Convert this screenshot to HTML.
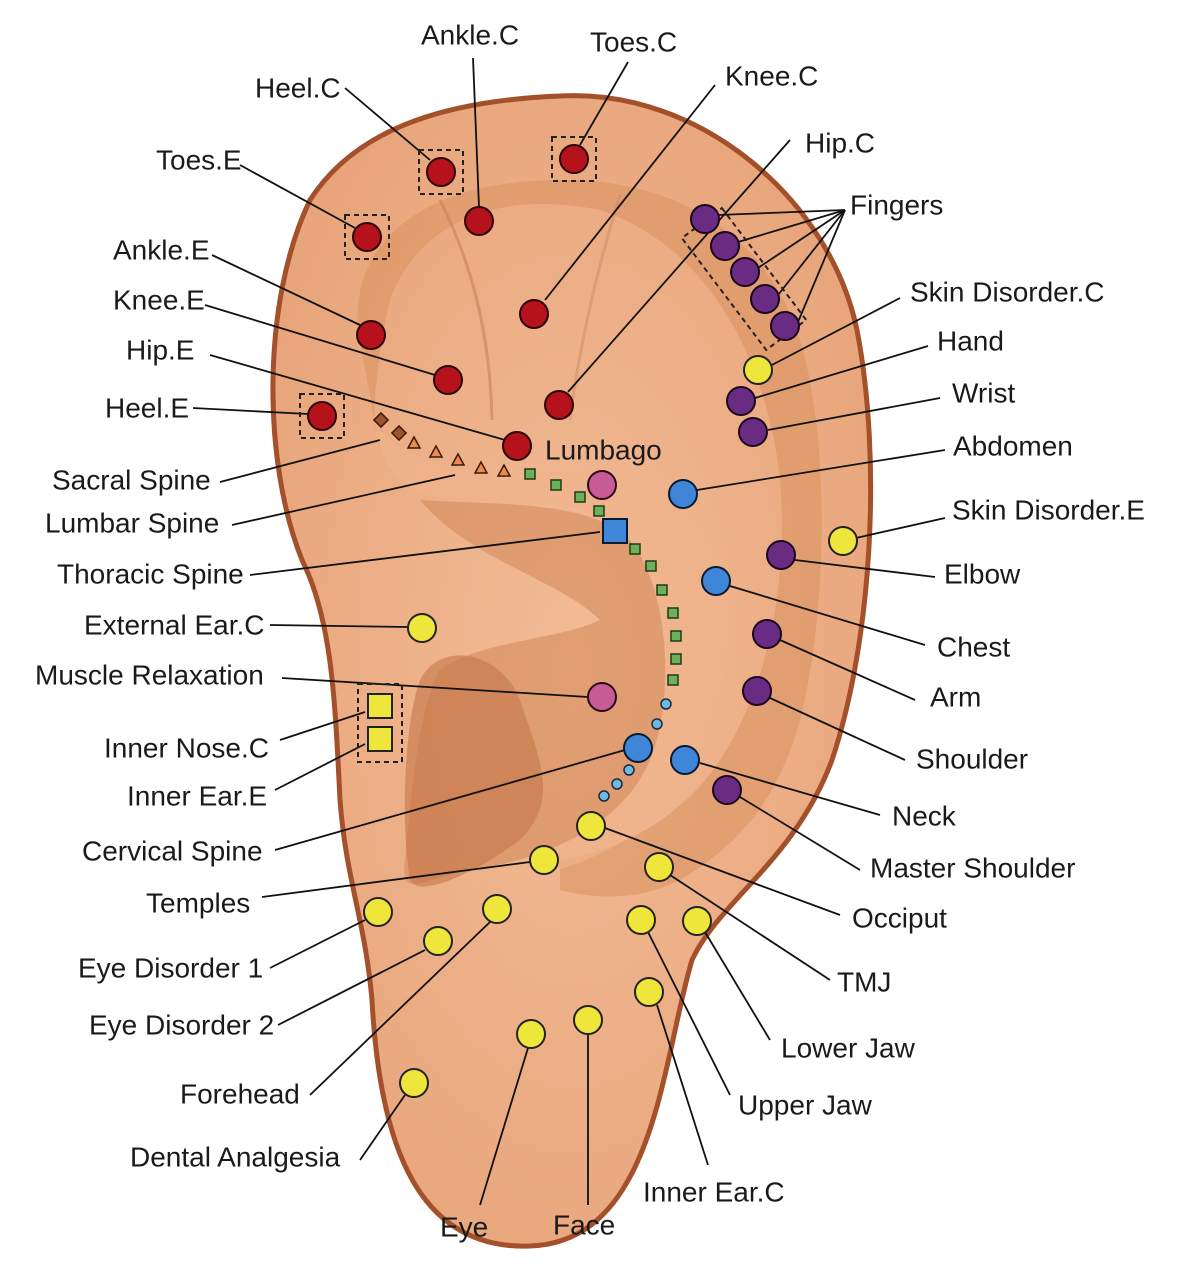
<!DOCTYPE html>
<html><head><meta charset="utf-8"><style>
html,body{margin:0;padding:0;background:#fff}
svg{display:block}
text{font-family:"Liberation Sans",sans-serif;font-size:28px;fill:#1a1a1a;dominant-baseline:central}
</style></head><body>
<svg width="1200" height="1267" viewBox="0 0 1200 1267" xmlns="http://www.w3.org/2000/svg">
<defs>
<radialGradient id="sk" cx="0.5" cy="0.5" r="0.6"><stop offset="0" stop-color="#f2bc96"/><stop offset="1" stop-color="#e8a47a"/></radialGradient>
</defs>
<path d="M560 96 C700 88 830 200 857 330 C882 460 872 640 832 760 C795 860 720 900 692 960 C662 1060 655 1242 530 1246 C420 1250 380 1150 372 1000 C365 920 346 880 340 800 C335 700 332 620 302 560 C262 460 262 300 310 200 C360 122 460 100 560 96 Z" fill="url(#sk)" stroke="#a4502a" stroke-width="5"/>
<path d="M358 330 C350 230 440 180 560 180 C680 178 770 240 800 340 C830 440 828 610 800 720 C775 810 730 850 680 880 C640 900 600 900 560 890 L560 860 C620 850 680 820 720 760 C760 700 790 600 780 480 C770 380 720 250 600 210 C500 190 420 220 390 300 C380 340 370 420 376 430 Z" fill="#d9915f" opacity="0.55"/>
<path d="M378 430 C420 470 500 480 560 470 C620 460 690 470 720 560 C745 640 720 760 640 830 C600 860 540 880 470 890 L450 860 C520 850 600 820 640 760 C680 690 680 600 640 540 C600 500 520 500 460 500 C410 500 380 470 378 430 Z" fill="#efb48c" opacity="0.7"/>
<path d="M420 500 C500 505 590 500 630 540 C670 590 675 700 650 760 C620 830 540 860 470 870 C420 880 400 900 405 860 C410 800 420 700 440 670 C480 640 560 640 600 620 C560 580 470 560 420 500 Z" fill="#d38a5c" opacity="0.6"/>
<path d="M420 680 C440 640 500 650 520 700 C540 760 560 800 520 840 C480 870 420 900 410 880 C400 820 405 720 420 680 Z" fill="#c5764a" opacity="0.6"/>
<path d="M440 200 C470 260 490 330 492 420" stroke="#c98257" stroke-width="3" fill="none" opacity="0.6"/>
<path d="M620 195 C600 260 580 340 570 420" stroke="#c98257" stroke-width="3" fill="none" opacity="0.4"/>

<g stroke="#111" stroke-width="1.8" fill="none">
<line x1="473" y1="58" x2="479" y2="207"/>
<line x1="345" y1="88" x2="430" y2="160"/>
<line x1="628" y1="62" x2="580" y2="145"/>
<line x1="715" y1="85" x2="545" y2="300"/>
<line x1="790" y1="140" x2="568" y2="392"/>
<line x1="240" y1="165" x2="355" y2="228"/>
<line x1="212" y1="255" x2="360" y2="325"/>
<line x1="205" y1="305" x2="435" y2="375"/>
<line x1="210" y1="355" x2="505" y2="440"/>
<line x1="193" y1="408" x2="308" y2="414"/>
<line x1="845" y1="210" x2="718" y2="215"/>
<line x1="845" y1="210" x2="738" y2="242"/>
<line x1="845" y1="210" x2="758" y2="268"/>
<line x1="845" y1="210" x2="778" y2="295"/>
<line x1="845" y1="210" x2="798" y2="322"/>
<line x1="900" y1="298" x2="770" y2="366"/>
<line x1="928" y1="346" x2="755" y2="398"/>
<line x1="940" y1="398" x2="768" y2="430"/>
<line x1="945" y1="450" x2="697" y2="490"/>
<line x1="945" y1="518" x2="856" y2="538"/>
<line x1="935" y1="577" x2="795" y2="560"/>
<line x1="925" y1="645" x2="730" y2="586"/>
<line x1="915" y1="700" x2="780" y2="640"/>
<line x1="905" y1="760" x2="770" y2="698"/>
<line x1="880" y1="815" x2="700" y2="763"/>
<line x1="860" y1="870" x2="740" y2="797"/>
<line x1="840" y1="915" x2="605" y2="828"/>
<line x1="830" y1="980" x2="670" y2="875"/>
<line x1="770" y1="1040" x2="705" y2="932"/>
<line x1="730" y1="1095" x2="648" y2="932"/>
<line x1="708" y1="1165" x2="657" y2="1005"/>
<line x1="588" y1="1205" x2="588" y2="1034"/>
<line x1="480" y1="1205" x2="528" y2="1048"/>
<line x1="360" y1="1160" x2="405" y2="1095"/>
<line x1="310" y1="1095" x2="490" y2="922"/>
<line x1="278" y1="1025" x2="425" y2="950"/>
<line x1="270" y1="968" x2="365" y2="920"/>
<line x1="262" y1="897" x2="530" y2="862"/>
<line x1="275" y1="850" x2="625" y2="750"/>
<line x1="275" y1="790" x2="365" y2="744"/>
<line x1="280" y1="740" x2="365" y2="712"/>
<line x1="282" y1="678" x2="588" y2="697"/>
<line x1="270" y1="625" x2="408" y2="627"/>
<line x1="250" y1="575" x2="600" y2="532"/>
<line x1="232" y1="525" x2="455" y2="475"/>
<line x1="220" y1="482" x2="380" y2="440"/>
</g>

<g fill="none" stroke="#222" stroke-width="2" stroke-dasharray="5,4">
<rect x="419" y="150" width="44" height="44"/>
<rect x="552" y="137" width="44" height="44"/>
<rect x="345" y="215" width="44" height="44"/>
<rect x="300" y="394" width="44" height="44"/>
<rect x="358" y="684" width="44" height="78"/>
<rect x="680" y="252" width="140" height="50" transform="rotate(53 745 272)"/>
</g>

<g fill="#a0522d" stroke="#3a1a0a" stroke-width="1.5">
<rect x="-5" y="-5" width="10" height="10" transform="translate(381 420) rotate(45)"/>
<rect x="-5" y="-5" width="10" height="10" transform="translate(399 433) rotate(45)"/>
</g>
<g fill="#f08a50" stroke="#3a1a0a" stroke-width="1.5">
<polygon points="414,437 420,448 408,448"/>
<polygon points="436,446 442,457 430,457"/>
<polygon points="458,454 464,465 452,465"/>
<polygon points="481,462 487,473 475,473"/>
<polygon points="504,465 510,476 498,476"/>
</g>
<g fill="#6cb05a" stroke="#1f3a14" stroke-width="1.5">
<rect x="525" y="469" width="10" height="10"/><rect x="551" y="480" width="10" height="10"/>
<rect x="575" y="492" width="10" height="10"/><rect x="594" y="506" width="10" height="10"/>
<rect x="630" y="544" width="10" height="10"/><rect x="646" y="561" width="10" height="10"/>
<rect x="657" y="585" width="10" height="10"/><rect x="668" y="608" width="10" height="10"/>
<rect x="671" y="631" width="10" height="10"/><rect x="671" y="654" width="10" height="10"/>
<rect x="668" y="675" width="10" height="10"/>
</g>
<g fill="#6fb8e0" stroke="#1a2a3a" stroke-width="1.5">
<circle cx="666" cy="704" r="5"/><circle cx="657" cy="724" r="5"/>
<circle cx="629" cy="770" r="5"/><circle cx="617" cy="784" r="5"/><circle cx="604" cy="796" r="5"/>
</g>

<g fill="#b5121b" stroke="#2a0505" stroke-width="2">
<circle cx="441" cy="172" r="14"/><circle cx="574" cy="159" r="14"/><circle cx="367" cy="237" r="14"/>
<circle cx="479" cy="221" r="14"/><circle cx="534" cy="314" r="14"/><circle cx="559" cy="405" r="14"/>
<circle cx="371" cy="335" r="14"/><circle cx="448" cy="380" r="14"/><circle cx="517" cy="446" r="14"/>
<circle cx="322" cy="416" r="14"/>
</g>
<g fill="#6a2c83" stroke="#1a0520" stroke-width="2">
<circle cx="705" cy="219" r="14"/><circle cx="725" cy="246" r="14"/><circle cx="745" cy="272" r="14"/>
<circle cx="765" cy="299" r="14"/><circle cx="785" cy="326" r="14"/>
<circle cx="741" cy="401" r="14"/><circle cx="753" cy="432" r="14"/><circle cx="781" cy="555" r="14"/>
<circle cx="767" cy="634" r="14"/><circle cx="757" cy="691" r="14"/><circle cx="727" cy="790" r="14"/>
</g>
<g fill="#3f86d8" stroke="#0a1a30" stroke-width="2">
<circle cx="683" cy="494" r="14"/><circle cx="716" cy="581" r="14"/><circle cx="685" cy="760" r="14"/>
<circle cx="638" cy="748" r="14"/>
<rect x="603" y="519" width="24" height="24"/>
</g>
<g fill="#c85a96" stroke="#2a0a1a" stroke-width="2">
<circle cx="602" cy="485" r="14"/><circle cx="602" cy="697" r="14"/>
</g>
<g fill="#eee63a" stroke="#222" stroke-width="2">
<circle cx="758" cy="370" r="14"/><circle cx="843" cy="541" r="14"/><circle cx="422" cy="628" r="14"/>
<circle cx="591" cy="826" r="14"/><circle cx="544" cy="860" r="14"/><circle cx="659" cy="867" r="14"/>
<circle cx="378" cy="912" r="14"/><circle cx="438" cy="941" r="14"/><circle cx="497" cy="909" r="14"/>
<circle cx="641" cy="920" r="14"/><circle cx="697" cy="921" r="14"/><circle cx="649" cy="992" r="14"/>
<circle cx="588" cy="1020" r="14"/><circle cx="531" cy="1034" r="14"/><circle cx="414" cy="1083" r="14"/>
<rect x="368" y="694" width="24" height="24"/><rect x="368" y="727" width="24" height="24"/>
</g>

<g>
<text x="421" y="35">Ankle.C</text>
<text x="255" y="88">Heel.C</text>
<text x="590" y="42">Toes.C</text>
<text x="725" y="76">Knee.C</text>
<text x="805" y="143">Hip.C</text>
<text x="156" y="160">Toes.E</text>
<text x="113" y="250">Ankle.E</text>
<text x="113" y="300">Knee.E</text>
<text x="126" y="350">Hip.E</text>
<text x="105" y="408">Heel.E</text>
<text x="545" y="450">Lumbago</text>
<text x="850" y="205">Fingers</text>
<text x="910" y="292">Skin Disorder.C</text>
<text x="937" y="341">Hand</text>
<text x="952" y="393">Wrist</text>
<text x="953" y="446">Abdomen</text>
<text x="952" y="510">Skin Disorder.E</text>
<text x="944" y="574">Elbow</text>
<text x="937" y="647">Chest</text>
<text x="930" y="697">Arm</text>
<text x="916" y="759">Shoulder</text>
<text x="892" y="816">Neck</text>
<text x="870" y="868">Master Shoulder</text>
<text x="852" y="918">Occiput</text>
<text x="837" y="982">TMJ</text>
<text x="781" y="1048">Lower Jaw</text>
<text x="738" y="1105">Upper Jaw</text>
<text x="643" y="1192">Inner Ear.C</text>
<text x="553" y="1225">Face</text>
<text x="440" y="1227">Eye</text>
<text x="130" y="1157">Dental Analgesia</text>
<text x="180" y="1094">Forehead</text>
<text x="89" y="1025">Eye Disorder 2</text>
<text x="78" y="968">Eye Disorder 1</text>
<text x="146" y="903">Temples</text>
<text x="82" y="851">Cervical Spine</text>
<text x="127" y="796">Inner Ear.E</text>
<text x="104" y="748">Inner Nose.C</text>
<text x="35" y="675">Muscle Relaxation</text>
<text x="84" y="625">External Ear.C</text>
<text x="57" y="574">Thoracic Spine</text>
<text x="45" y="523">Lumbar Spine</text>
<text x="52" y="480">Sacral Spine</text>
</g>
</svg>
</body></html>
